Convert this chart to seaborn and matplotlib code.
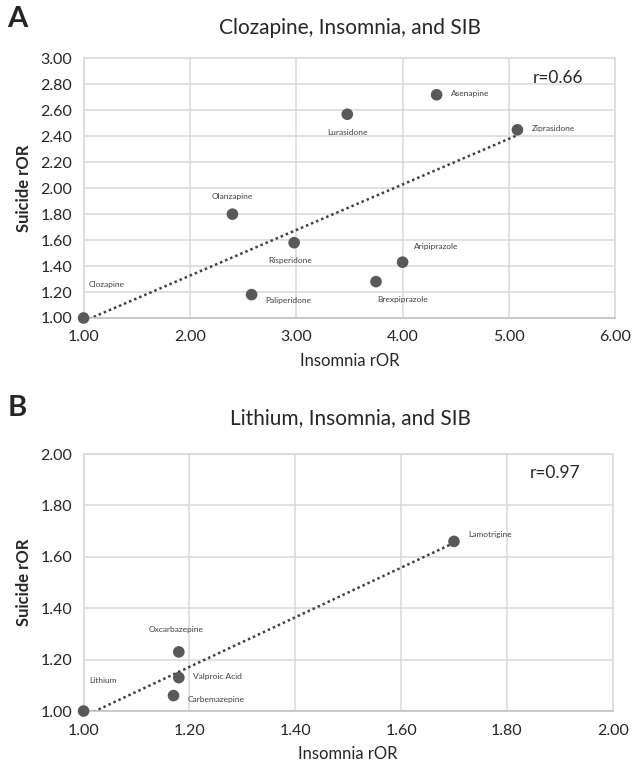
import numpy as np
import pandas as pd
import matplotlib
matplotlib.use("Agg")
import matplotlib.pyplot as plt
import seaborn as sns

# Panel A: antipsychotics
drugs_a = ["Clozapine", "Olanzapine", "Lurasidone", "Asenapine", "Ziprasidone",
           "Risperidone", "Aripiprazole", "Brexpiprazole", "Paliperidone"]
insomnia_a = [1.00, 2.40, 3.48, 4.32, 5.08, 2.98, 4.00, 3.75, 2.58]
suicide_a = [1.00, 1.80, 2.57, 2.72, 2.45, 1.58, 1.43, 1.28, 1.18]
r_a = "r=0.66"

# Panel B: mood stabilisers
drugs_b = ["Lithium", "Oxcarbazepine", "Valproic Acid", "Carbemazepine", "Lamotrigine"]
insomnia_b = [1.00, 1.18, 1.18, 1.17, 1.70]
suicide_b = [1.00, 1.23, 1.13, 1.06, 1.66]
r_b = "r=0.97"

# label offsets in points (dx, dy, ha)
offsets_a = {
    "Clozapine": (4, 24, "left"), "Olanzapine": (0, 13, "center"),
    "Lurasidone": (0, -13, "center"), "Asenapine": (10, 1, "left"),
    "Ziprasidone": (10, 1, "left"), "Risperidone": (-3, -13, "center"),
    "Aripiprazole": (8, 11, "left"), "Brexpiprazole": (1, -13, "left"),
    "Paliperidone": (10, -4, "left"),
}
offsets_b = {
    "Lithium": (4, 22, "left"), "Oxcarbazepine": (-2, 16, "center"),
    "Valproic Acid": (10, 1, "left"), "Carbemazepine": (10, -3, "left"),
    "Lamotrigine": (10, 5, "left"),
}

sns.set_style("white")
plt.rcParams["font.family"] = ["Lato", "DejaVu Sans"]

fig = plt.figure(figsize=(6.33, 7.69), dpi=100)
ax_a = fig.add_axes([0.132, 0.5865, 0.84, 0.3375])
ax_b = fig.add_axes([0.132, 0.0754, 0.836, 0.3342])

grid_c = "#d9d9d9"
dot_c = "#595959"
text_c = "#262626"


def draw_panel(ax, drugs, xs, ys, offsets, r_text, xlim, xstep, ylim, ystep):
    df = pd.DataFrame({"drug": drugs, "insomnia": xs, "suicide": ys})
    sns.regplot(data=df, x="insomnia", y="suicide", ax=ax, scatter=False, ci=None,
                color="#404040", line_kws=dict(ls=(0, (1, 1.2)), lw=1.8))
    sns.scatterplot(data=df, x="insomnia", y="suicide", ax=ax, s=70,
                    color=dot_c, edgecolor="none", zorder=3, clip_on=False)
    for d, x, y in zip(drugs, xs, ys):
        dx, dy, ha = offsets[d]
        ax.annotate(d, (x, y), xytext=(dx, dy), textcoords="offset points",
                    ha=ha, va="center", fontsize=6, color="#404040")
    ax.set_xlim(*xlim)
    ax.set_ylim(*ylim)
    ax.set_xticks(np.arange(xlim[0], xlim[1] + 1e-9, xstep))
    ax.set_yticks(np.arange(ylim[0], ylim[1] + 1e-9, ystep))
    ax.xaxis.set_major_formatter(matplotlib.ticker.FormatStrFormatter("%.2f"))
    ax.yaxis.set_major_formatter(matplotlib.ticker.FormatStrFormatter("%.2f"))
    ax.grid(True, color=grid_c, lw=1.1)
    ax.set_axisbelow(True)
    for sp in ax.spines.values():
        sp.set_color(grid_c)
        sp.set_linewidth(1.1)
    ax.spines["bottom"].set_color("#bfbfbf")
    ax.tick_params(length=0, labelsize=11.5, labelcolor=text_c)
    ax.tick_params(axis="x", pad=9)
    ax.tick_params(axis="y", pad=8)
    ax.set_xlabel("Insomnia rOR", fontsize=12, color=text_c, labelpad=6)
    ax.set_ylabel("Suicide rOR", fontsize=12, color=text_c, fontweight="bold", labelpad=6)
    ax.text(0.94, 0.925, r_text, transform=ax.transAxes, ha="right", va="center",
            fontsize=12.5, color=text_c)


draw_panel(ax_a, drugs_a, insomnia_a, suicide_a, offsets_a, r_a,
           (1, 6), 1, (1, 3), 0.2)
draw_panel(ax_b, drugs_b, insomnia_b, suicide_b, offsets_b, r_b,
           (1, 2), 0.2, (1, 2), 0.2)

fig.text(0.553, 0.963, "Clozapine, Insomnia, and SIB", ha="center", va="center",
         fontsize=15, color=text_c)
fig.text(0.553, 0.456, "Lithium, Insomnia, and SIB", ha="center", va="center",
         fontsize=15, color=text_c)
fig.text(0.012, 0.975, "A", ha="left", va="center", fontsize=21, fontweight="bold")
fig.text(0.012, 0.469, "B", ha="left", va="center", fontsize=21, fontweight="bold")

fig.savefig("out.png", dpi=100, facecolor="white")
